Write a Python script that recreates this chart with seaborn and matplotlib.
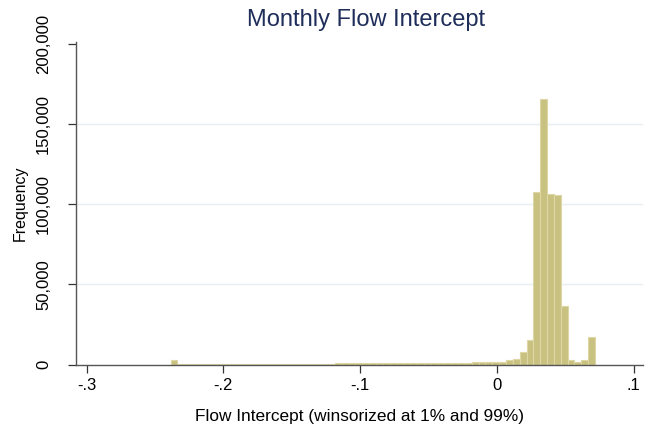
import numpy as np
import matplotlib
matplotlib.use("Agg")
import matplotlib.pyplot as plt
import seaborn as sns

# Frequency per bin (62 bins)
freq = [2800,
        150, 150, 200, 200, 200, 250, 250, 250, 300,
        300, 300, 350, 350, 400, 400, 450, 450, 500, 500, 550,
        550, 600, 600, 650, 650, 700, 700, 750, 750, 800, 800, 850, 850, 900, 900, 950, 950,
        1200,
        1000, 1050, 1100, 1150, 1200, 1250, 1300, 1350, 1400,
        1500, 2500, 3600, 7800, 15000, 107500, 166000, 106300, 105800, 36700,
        3100, 1600, 2500, 17400]
bin_lo, bin_hi = -0.2386, 0.0717
xticks = [-0.3, -0.2, -0.1, 0, 0.1]
xtick_labels = ["-.3", "-.2", "-.1", "0", ".1"]
yticks = [0, 50000, 100000, 150000, 200000]
ytick_labels = ["0", "50,000", "100,000", "150,000", "200,000"]

sns.set_style("white")
plt.rcParams['font.family'] = ['Liberation Sans', 'DejaVu Sans']

n_bins = len(freq)
width = (bin_hi - bin_lo) / n_bins
mids = bin_lo + width * (np.arange(n_bins) + 0.5)

fig = plt.figure(figsize=(6.46, 4.28), dpi=100)
# plot region in pixels: left 76, right 643, top 42, bottom 364.5
ax = fig.add_axes([76 / 646, (428 - 364.5) / 428, (643 - 76) / 646, (364.5 - 42) / 428])

# gridlines at inner y labels
for v in yticks[1:-1]:
    ax.axhline(v, color='#e8eff1', lw=1.0, zorder=0)

sns.histplot(x=mids, weights=freq, bins=n_bins, binrange=(bin_lo, bin_hi),
             color='#c9c180', edgecolor='#ddd7a6', linewidth=0.8, alpha=1, ax=ax)

ax.set_xlim(-0.3078, 0.1068)
ax.set_ylim(0, 201400)
ax.set_xticks(xticks)
ax.set_xticklabels(xtick_labels, fontsize=12, color='black')
ax.set_yticks(yticks)
ax.set_yticklabels(ytick_labels, fontsize=12, rotation=90, va='center', color='black')
ax.tick_params(axis='both', direction='out', length=6, width=0.9, color='#333333')
ax.tick_params(axis='x', bottom=True, pad=4)
ax.tick_params(axis='y', left=True, pad=12)

for s in ['top', 'right']:
    ax.spines[s].set_visible(False)
for s in ['left', 'bottom']:
    ax.spines[s].set_color('#555555')
    ax.spines[s].set_linewidth(1.0)

ax.set_xlabel('Flow Intercept (winsorized at 1% and 99%)', fontsize=12.4, labelpad=11, color='black')
ax.set_ylabel('Frequency', fontsize=11.5, labelpad=6, color='black')
fig.text(366 / 646, 1 - 20 / 428, 'Monthly Flow Intercept', ha='center', va='center',
         fontsize=17, color='#1e2d59')

fig.savefig('out.png', dpi=100)
